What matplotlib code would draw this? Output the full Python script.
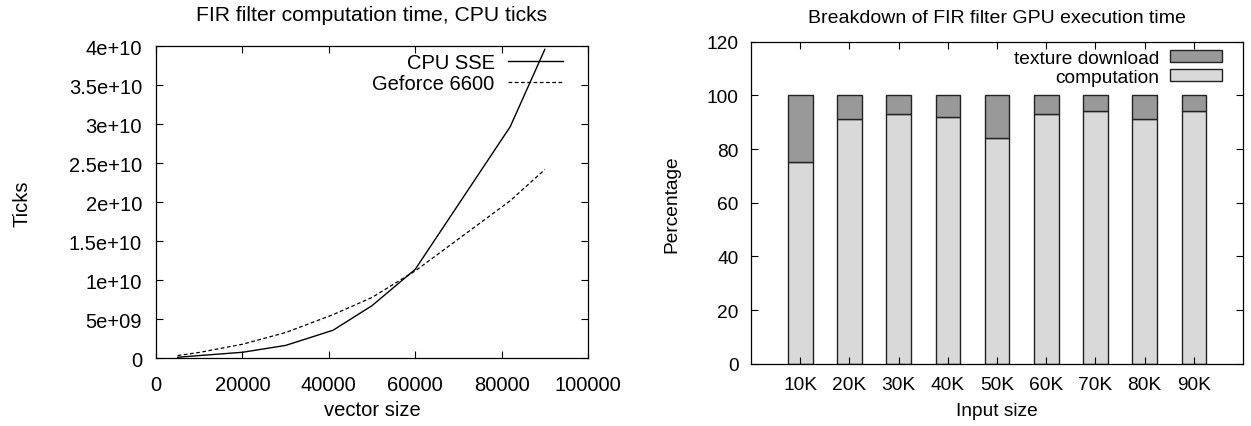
import matplotlib
matplotlib.use("Agg")
import matplotlib.pyplot as plt
import numpy as np

plt.rcParams['font.family'] = ['Liberation Sans', 'DejaVu Sans']

# ---- left chart data ----
vector_size = [5000, 10000, 20000, 30000, 41000, 50000, 60000, 82000, 90000]
cpu_sse = [1.3e8, 3.5e8, 7.7e8, 1.65e9, 3.6e9, 6.75e9, 1.14e10, 2.97e10, 3.96e10]
geforce_6600 = [3.5e8, 7.5e8, 1.8e9, 3.3e9, 5.6e9, 7.8e9, 1.12e10, 2.02e10, 2.42e10]
left_yticks = [0, 5e9, 1e10, 1.5e10, 2e10, 2.5e10, 3e10, 3.5e10, 4e10]
left_yticklabels = ['0', '5e+09', '1e+10', '1.5e+10', '2e+10', '2.5e+10', '3e+10', '3.5e+10', '4e+10']
left_xticks = [0, 20000, 40000, 60000, 80000, 100000]

# ---- right chart data ----
input_sizes = ['10K', '20K', '30K', '40K', '50K', '60K', '70K', '80K', '90K']
computation = [75, 91, 93, 92, 84, 93, 94, 91, 94]
texture_download = [25, 9, 7, 8, 16, 7, 6, 9, 6]
right_yticks = [0, 20, 40, 60, 80, 100, 120]

fig = plt.figure(figsize=(12.51, 4.27), dpi=100)

FS_L = 14.5
FS_R = 13.8

# Left axes
L0, L1, B1, T1 = 156, 588, 359.3, 47.3
ax1 = fig.add_axes([L0/1251, (427-B1)/427, (L1-L0)/1251, (B1-T1)/427])
ax1.plot(vector_size, cpu_sse, color='black', lw=1.0, label='CPU SSE')
ax1.plot(vector_size, geforce_6600, color='black', lw=0.9, ls=(0, (3, 2)), label='Geforce 6600')
ax1.set_xlim(0, 100000)
ax1.set_ylim(0, 4e10)
ax1.set_xticks(left_xticks)
ax1.set_xticklabels([str(v) for v in left_xticks])
ax1.set_yticks(left_yticks)
ax1.set_yticklabels(left_yticklabels)
ax1.tick_params(direction='in', top=True, right=True, length=5, width=0.8,
                labelsize=FS_L, colors='black')
ax1.tick_params(axis='x', pad=12)
ax1.tick_params(axis='y', pad=10)
ax1.set_title('FIR filter computation time, CPU ticks', fontsize=15.2, pad=19)
ax1.set_xlabel('vector size', fontsize=FS_L, labelpad=4)
ax1.set_ylabel('Ticks', fontsize=FS_L)
ax1.yaxis.set_label_coords((31-L0)/(L1-L0), 0.5)
for s in ax1.spines.values():
    s.set_linewidth(0.9)
leg1 = ax1.legend(loc='upper right', frameon=False, markerfirst=False, fontsize=FS_L,
                  handlelength=2.75, handletextpad=0.65, labelspacing=0.08,
                  borderaxespad=0.0, borderpad=0.0)
leg1.set_bbox_to_anchor(((563-L0)/(L1-L0), 1 - (54-T1)/(B1-T1)), transform=ax1.transAxes)

# Right axes
R0, R1, RB, RT = 751, 1243, 364.8, 42.6
ax2 = fig.add_axes([R0/1251, (427-RB)/427, (R1-R0)/1251, (RB-RT)/427])
x = np.arange(len(input_sizes))
ax2.bar(x, computation, width=0.5, color='#d9d9d9', edgecolor='#222222', lw=1.0,
        label='computation')
ax2.bar(x, texture_download, width=0.5, bottom=computation, color='#999999',
        edgecolor='#222222', lw=1.0, label='texture download')
ax2.set_xlim(-1, 9)
ax2.set_ylim(0, 120)
ax2.set_xticks(x)
ax2.set_xticklabels(input_sizes)
ax2.set_yticks(right_yticks)
ax2.tick_params(direction='in', top=True, right=True, length=5, width=0.8,
                labelsize=FS_R, pad=9, colors='black')
ax2.set_title('Breakdown of FIR filter GPU execution time', fontsize=14, pad=14)
ax2.set_xlabel('Input size', fontsize=FS_R, labelpad=6)
ax2.set_ylabel('Percentage', fontsize=FS_R)
ax2.yaxis.set_label_coords((680-R0)/(R1-R0), 0.5)
for s in ax2.spines.values():
    s.set_linewidth(0.9)
handles, labels = ax2.get_legend_handles_labels()
leg2 = ax2.legend(handles[::-1], labels[::-1], loc='upper right', frameon=False,
                  markerfirst=False, fontsize=FS_R, handlelength=2.7, handleheight=0.55,
                  handletextpad=0.6, labelspacing=0.1, borderaxespad=0.0, borderpad=0.0)
leg2.set_bbox_to_anchor(((1222-R0)/(R1-R0), 1 - (51-RT)/(RB-RT)), transform=ax2.transAxes)

fig.savefig('out.png', dpi=100)
